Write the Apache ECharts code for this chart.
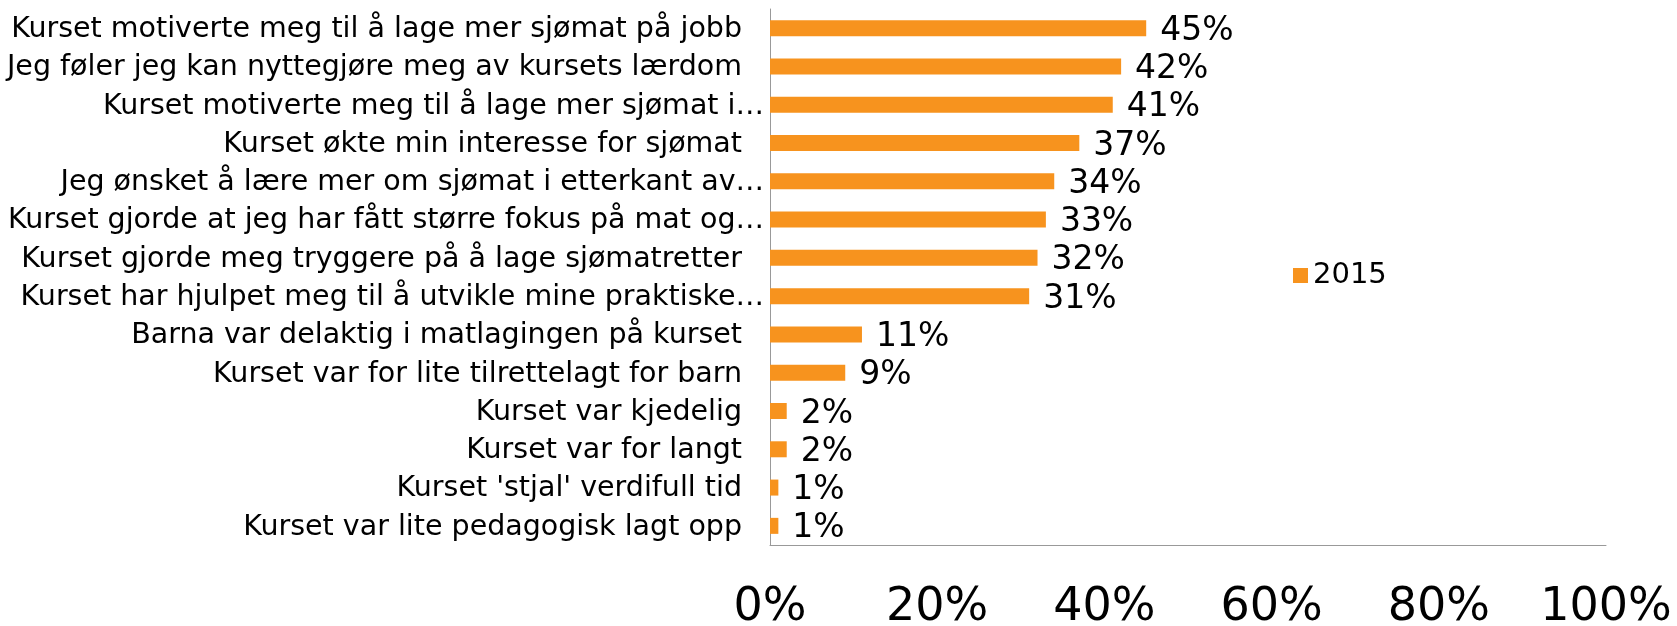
<!DOCTYPE html>
<html>
<head>
<meta charset="utf-8">
<script src="https://cdn.jsdelivr.net/npm/echarts@6/dist/echarts.min.js"></script>
<style>html,body{margin:0;padding:0;background:#fff}#c{width:1677px;height:626px}</style>
</head>
<body>
<div id="c"></div>
<script>
const categories = [
  "Kurset motiverte meg til å lage mer sjømat på jobb",
  "Jeg føler jeg kan nyttegjøre meg av kursets lærdom",
  "Kurset motiverte meg til å lage mer sjømat i…",
  "Kurset økte min interesse for sjømat",
  "Jeg ønsket å lære mer om sjømat i etterkant av…",
  "Kurset gjorde at jeg har fått større fokus på mat og…",
  "Kurset gjorde meg tryggere på å lage sjømatretter",
  "Kurset har hjulpet meg til å utvikle mine praktiske…",
  "Barna var delaktig i matlagingen på kurset",
  "Kurset var for lite tilrettelagt for barn",
  "Kurset var kjedelig",
  "Kurset var for langt",
  "Kurset 'stjal' verdifull tid",
  "Kurset var lite pedagogisk lagt opp"
];
const values2015 = [45, 42, 41, 37, 34, 33, 32, 31, 11, 9, 2, 2, 1, 1];
const seriesName = "2015";
const xTicks = [0, 20, 40, 60, 80, 100];

const labelFont = { fontFamily: 'DejaVu Sans', fontSize: 28.5, color: '#000' };

const chart = echarts.init(document.getElementById('c'));
chart.setOption({
  animation: false,
  grid: { left: 770, right: 71, top: 9, bottom: 81, containLabel: false, outerBoundsMode: 'none' },
  legend: {
    data: [seriesName],
    left: 1288, top: 256,
    itemWidth: 15, itemHeight: 15, itemGap: 7,
    textStyle: { fontFamily: 'DejaVu Sans', fontSize: 29, color: '#000' },
    icon: 'rect'
  },
  xAxis: {
    type: 'value', min: 0, max: 100, interval: 20,
    axisLine: { show: true, lineStyle: { color: '#999', width: 1 } },
    axisTick: { show: false },
    splitLine: { show: false },
    axisLabel: { formatter: v => v + '%', fontFamily: 'DejaVu Sans', fontSize: 46, color: '#000', margin: 40 }
  },
  yAxis: {
    type: 'category', inverse: true, data: categories,
    axisLine: { show: true, lineStyle: { color: '#999', width: 1 } },
    axisTick: { show: false },
    axisLabel: {
      fontFamily: 'DejaVu Sans', fontSize: 28.5, color: '#000', margin: 6,
      formatter: v => v.endsWith('…') ? '{a|' + v + '}' : '{a|' + v + '}{h| }',
      rich: {
        a: Object.assign({}, labelFont, { padding: [3, 0, 0, 0] }),
        h: Object.assign({}, labelFont, { width: 22, color: 'rgba(0,0,0,0)', padding: [3, 0, 0, 0] })
      }
    }
  },
  series: [{
    name: seriesName, type: 'bar', data: values2015, barWidth: 16,
    itemStyle: { color: '#F7931E' },
    label: { show: true, position: 'right', distance: 14, offset: [0, 3], formatter: p => p.value + '%', fontFamily: 'DejaVu Sans', fontSize: 33, color: '#000' }
  }]
});
</script>
</body>
</html>
